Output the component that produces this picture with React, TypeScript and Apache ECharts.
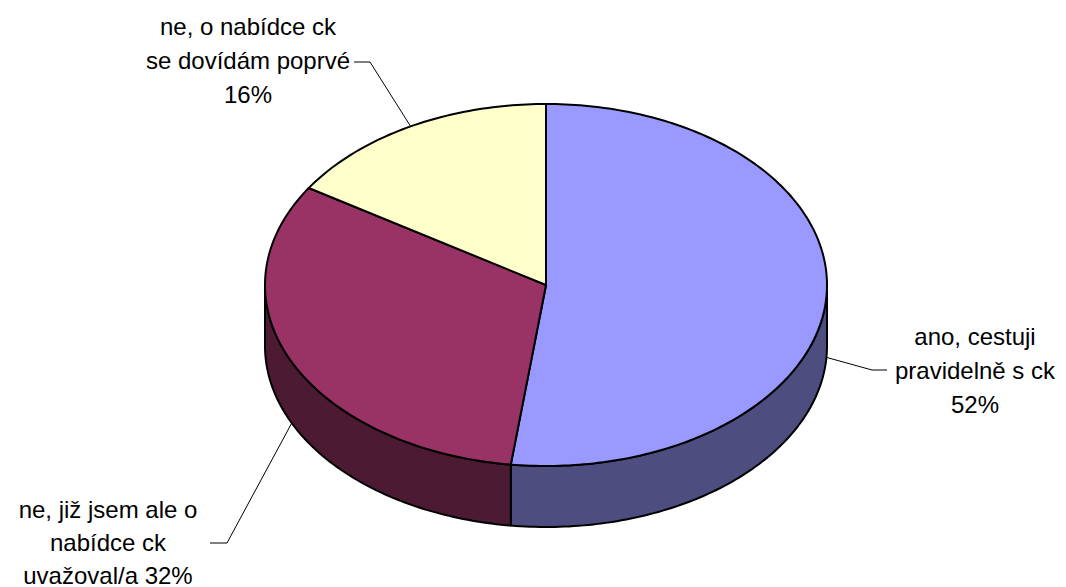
import React, { useEffect, useRef } from "react";
import * as echarts from "echarts";

// ---- data ----
const categories = [
  "ano, cestuji\npravidelně s ck",
  "ne, již jsem ale o\nnabídce ck\nuvažoval/a",
  "ne, o nabídce ck\nse dovídám poprvé",
];
const values = [52, 32, 16];
const pctJoin = ["\n", " ", "\n"];

// ---- styles / layout ----
const topColors = ["#9999FF", "#993366", "#FFFFCC"];
const sideColors = ["#4D4D80", "#4D1A33", "#808066"];
const CX = 546;
const CY = 285;
const RX = 281;
const RY = 181;
const DEPTH = 61;
const labelPos = [
  [975, 370],
  [108, 542],
  [248, 60],
];
const labelLineHeight = [34, 33, 34];
const leaderElbow = [
  [872, 370],
  [227, 543],
  [370, 62],
];
const leaderEnd = [
  [887, 370],
  [210, 543],
  [354, 62],
];
const FONT = "Liberation Sans, Arial, sans-serif";

const total = values.reduce((a, b) => a + b, 0);
const starts: number[] = [];
{
  let acc = 0;
  for (const v of values) {
    starts.push(90 - (acc / total) * 360);
    acc += v;
  }
}

function pt(deg: number, dy = 0): number[] {
  const r = (deg * Math.PI) / 180;
  return [CX + RX * Math.cos(r), CY - RY * Math.sin(r) + dy];
}
function arc(a: number, b: number, dy: number): number[][] {
  const n = Math.max(2, Math.ceil(Math.abs(a - b) / 1));
  const out: number[][] = [];
  for (let k = 0; k <= n; k++) out.push(pt(a + ((b - a) * k) / n, dy));
  return out;
}
const lowerIntervals = [
  [-540, -360],
  [-180, 0],
  [180, 360],
];

function renderItem(params: any, api: any) {
  const i = params.dataIndex;
  const v = api.value(0);
  const a0 = starts[i];
  const a1 = a0 - (v / total) * 360;
  const children: any[] = [];
  for (const [lo, hi] of lowerIntervals) {
    const s = Math.max(lo, a1);
    const e = Math.min(hi, a0);
    if (e > s) {
      const points = arc(e, s, 0).concat(arc(s, e, DEPTH));
      children.push({
        type: "polygon",
        shape: { points },
        style: { fill: sideColors[i], stroke: "#000", lineWidth: 2, lineJoin: "round" },
        z2: 1,
      });
    }
  }
  const topPts = [[CX, CY]].concat(arc(a0, a1, 0));
  children.push({
    type: "polygon",
    shape: { points: topPts },
    style: { fill: topColors[i], stroke: "#000", lineWidth: 2, lineJoin: "round" },
    z2: 2,
  });
  const mid = (a0 + a1) / 2;
  const dy = Math.sin((mid * Math.PI) / 180) < 0 ? DEPTH : 0;
  const p = pt(mid, dy);
  children.push({
    type: "polyline",
    shape: { points: [p, leaderElbow[i], leaderEnd[i]] },
    style: { stroke: "#000", lineWidth: 1, fill: null },
    z2: 3,
  });
  const pct = Math.round((v / total) * 100);
  children.push({
    type: "text",
    style: {
      text: categories[i] + pctJoin[i] + pct + "%",
      x: labelPos[i][0],
      y: labelPos[i][1],
      align: "center",
      verticalAlign: "middle",
      fontSize: 24,
      fontFamily: FONT,
      lineHeight: labelLineHeight[i],
      fill: "#000",
    },
    z2: 4,
  });
  return { type: "group", children };
}

export default function App() {
  const ref = useRef<HTMLDivElement>(null);
  useEffect(() => {
    document.body.style.margin = "0";
    if (!ref.current) return;
    const chart = echarts.init(ref.current, undefined, { renderer: "svg" });
    chart.setOption({
      animation: false,
      backgroundColor: "#ffffff",
      series: [
        {
          type: "custom",
          coordinateSystem: "none",
          renderItem,
          data: values.map((v) => [v]),
        },
      ],
    });
    return () => chart.dispose();
  }, []);
  return <div ref={ref} style={{ width: 1066, height: 587 }} />;
}
